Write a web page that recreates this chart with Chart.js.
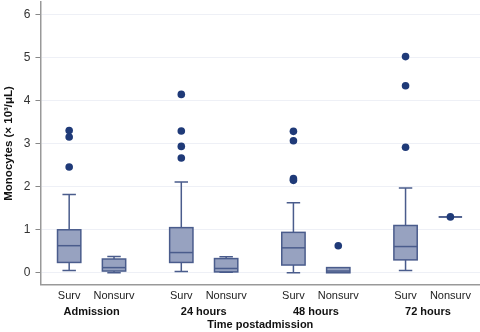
<!DOCTYPE html>
<html>
<head>
<meta charset="utf-8">
<script src="https://cdn.jsdelivr.net/npm/chart.js@4.4.0/dist/chart.umd.min.js"></script>
<style>
  html, body { margin: 0; padding: 0; background: #fff; }
  #wrap { width: 480px; height: 332px; }
</style>
</head>
<body>
<div id="wrap"><canvas id="canvas"></canvas></div>
<script>
// box positions on the x axis (pairs per time point, gap between groups)
const positions = [0, 1, 2.5, 3.5, 5, 6, 7.5, 8.5];
const catLabels = ['Surv', 'Nonsurv', 'Surv', 'Nonsurv', 'Surv', 'Nonsurv', 'Surv', 'Nonsurv'];
const groupCenters = [0.5, 3, 5.5, 8];
const groupLabels = ['Admission', '24 hours', '48 hours', '72 hours'];

// box plot values (x 10^3/uL)
const whiskerLow  = [0.05, 0.00, 0.03, 0.01, 0.00, 0.00, 0.05, 1.30];
const q1          = [0.24, 0.04, 0.24, 0.02, 0.18, 0.00, 0.30, 1.30];
const median      = [0.63, 0.12, 0.47, 0.10, 0.58, 0.04, 0.61, 1.30];
const q3          = [1.00, 0.32, 1.05, 0.33, 0.94, 0.12, 1.10, 1.30];
const whiskerHigh = [1.82, 0.38, 2.11, 0.37, 1.63, 0.12, 1.97, 1.30];
const outliers = [
  [3.31, 3.16, 2.46],
  [],
  [4.15, 3.30, 2.94, 2.67],
  [],
  [3.29, 3.07, 2.19, 2.15],
  [0.63],
  [5.03, 4.35, 2.92],
  [1.30]
];
const yTicks = [0, 1, 2, 3, 4, 5, 6];

// flatten outliers into scatter points
const outlierPoints = [];
outliers.forEach((list, i) => {
  list.forEach(v => outlierPoints.push({ x: positions[i], y: v }));
});

const boxFill = '#97a2c0';
const boxLine = '#4a5c8c';

// draws boxes and whiskers through the chart scales
const boxPlugin = {
  id: 'boxes',
  beforeDatasetsDraw(chart) {
    const ctx = chart.ctx;
    const xs = chart.scales.x;
    const ys = chart.scales.y;
    const halfBox = 0.26, halfCap = 0.15;
    ctx.save();
    ctx.lineWidth = 1.5;
    ctx.strokeStyle = boxLine;
    positions.forEach((p, i) => {
      const xl = xs.getPixelForValue(p - halfBox);
      const xr = xs.getPixelForValue(p + halfBox);
      const xc = xs.getPixelForValue(p);
      const cl = xs.getPixelForValue(p - halfCap);
      const cr = xs.getPixelForValue(p + halfCap);
      const yq1 = ys.getPixelForValue(q1[i]);
      const yq3 = ys.getPixelForValue(q3[i]);
      const ymed = ys.getPixelForValue(median[i]);
      const ylo = ys.getPixelForValue(whiskerLow[i]);
      const yhi = ys.getPixelForValue(whiskerHigh[i]);
      // whiskers
      ctx.beginPath();
      if (whiskerHigh[i] > q3[i]) {
        ctx.moveTo(xc, yq3); ctx.lineTo(xc, yhi);
        ctx.moveTo(cl, yhi); ctx.lineTo(cr, yhi);
      }
      if (whiskerLow[i] < q1[i]) {
        ctx.moveTo(xc, yq1); ctx.lineTo(xc, ylo);
        ctx.moveTo(cl, ylo); ctx.lineTo(cr, ylo);
      }
      ctx.stroke();
      // box
      ctx.fillStyle = boxFill;
      ctx.fillRect(xl, yq3, xr - xl, yq1 - yq3);
      ctx.strokeRect(xl, yq3, xr - xl, yq1 - yq3);
      // median
      ctx.beginPath();
      ctx.moveTo(xl, ymed); ctx.lineTo(xr, ymed);
      ctx.stroke();
    });
    ctx.restore();
  }
};

// drop the extra room chart.js keeps for end labels
const noEndPadding = axis => {
  axis.paddingTop = 0;
  axis.paddingBottom = 0;
  axis.paddingLeft = 0;
  axis.paddingRight = 0;
};

const ctx = document.getElementById('canvas');
new Chart(ctx, {
  type: 'scatter',
  data: {
    datasets: [{
      label: 'Outliers',
      data: outlierPoints,
      pointRadius: 3.8,
      pointBackgroundColor: '#1f3a78',
      pointBorderColor: '#1f3a78',
      pointBorderWidth: 0
    }]
  },
  plugins: [boxPlugin],
  options: {
    responsive: true,
    maintainAspectRatio: false,
    animation: false,
    layout: { autoPadding: false, padding: { top: 2, right: 0, left: 2, bottom: 0 } },
    plugins: {
      legend: { display: false },
      tooltip: { enabled: false }
    },
    scales: {
      y: {
        type: 'linear',
        min: -0.28,
        max: 6.3,
        afterBuildTicks: axis => { axis.ticks = yTicks.map(v => ({ value: v })); },
        afterFit: noEndPadding,
        ticks: {
          color: '#333',
          font: { family: 'Liberation Sans', size: 12 },
          padding: 5
        },
        grid: {
          color: '#eef0f6',
          lineWidth: 1,
          tickLength: 5,
          tickColor: '#888'
        },
        border: { color: '#999', width: 1.5 },
        title: {
          display: true,
          text: 'Monocytes (× 10³/μL)',
          color: '#111',
          font: { family: 'Liberation Sans', size: 11.5, weight: 'bold' },
          padding: { top: 0, bottom: 3 }
        }
      },
      x: {
        type: 'linear',
        position: 'bottom',
        weight: 0,
        min: -0.64,
        max: 9.16,
        afterBuildTicks: axis => { axis.ticks = positions.map(v => ({ value: v })); },
        afterFit: noEndPadding,
        ticks: {
          autoSkip: false,
          maxRotation: 0,
          color: '#222',
          font: { family: 'Liberation Sans', size: 11, lineHeight: 1.1 },
          padding: 5,
          callback: (v, i) => catLabels[i]
        },
        grid: { display: false, drawTicks: false },
        border: { color: '#999', width: 1.5 }
      },
      x2: {
        type: 'linear',
        position: 'bottom',
        weight: 1,
        min: -0.64,
        max: 9.16,
        afterBuildTicks: axis => { axis.ticks = groupCenters.map(v => ({ value: v })); },
        afterFit: noEndPadding,
        ticks: {
          autoSkip: false,
          maxRotation: 0,
          color: '#111',
          font: { family: 'Liberation Sans', size: 11, weight: 'bold', lineHeight: 1.0 },
          padding: 0,
          callback: (v, i) => groupLabels[i]
        },
        grid: { display: false, drawTicks: false },
        border: { display: false },
        title: {
          display: true,
          text: 'Time postadmission',
          color: '#111',
          font: { family: 'Liberation Sans', size: 11, weight: 'bold', lineHeight: 1.1 },
          padding: { top: 1, bottom: 1 }
        }
      }
    }
  }
});
</script>
</body>
</html>
